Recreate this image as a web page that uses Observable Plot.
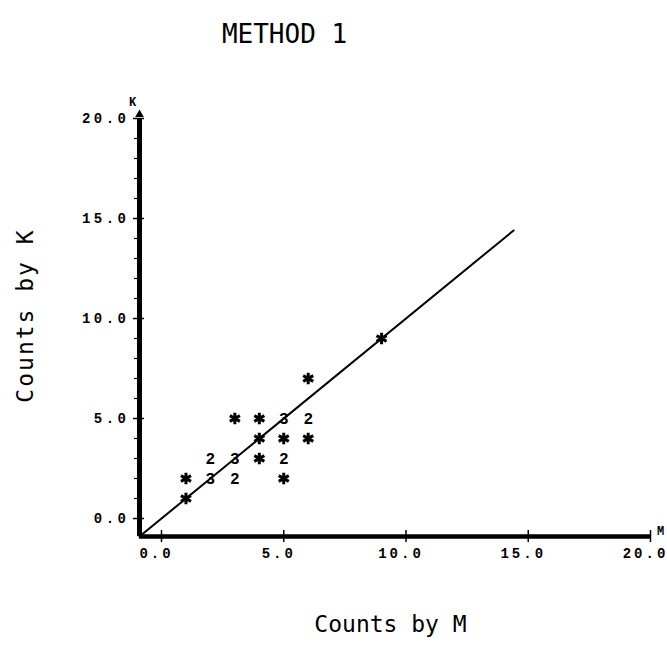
<!DOCTYPE html>
<html><head><meta charset="utf-8">
<script src="https://cdn.jsdelivr.net/npm/d3@7"></script>
<script src="https://cdn.jsdelivr.net/npm/@observablehq/plot@0.6"></script>
<style>html,body{margin:0;padding:0;background:#fff;} #chart svg{display:block}</style>
</head><body><div id="chart"></div>
<script>
const title = "METHOD 1";
const xTitle = "Counts by M";
const yTitle = "Counts by K";
const xAxisName = "M";
const yAxisName = "K";
const majorTicks = [0, 5, 10, 15, 20];
const minorTicks = [1, 2, 3, 4, 6, 7, 8, 9, 11, 12, 13, 14, 16, 17, 18, 19];
const axisStart = -0.9;
const axisEnd = 20;
// single observations (asterisks)
const starM = [1, 1, 3, 4, 4, 5, 6, 4, 5, 6, 9];
const starK = [1, 2, 5, 5, 4, 4, 4, 3, 2, 7, 9];
// overlapping observations (count digits)
const countM = [5, 6, 2, 3, 5, 2, 3];
const countK = [5, 5, 3, 3, 3, 2, 2];
const countN = ["3", "2", "2", "3", "2", "3", "2"];
// fitted line endpoints
const fitM = [-0.9, 14.4];
const fitK = [-0.9, 14.4];

const stars = starM.map((m, i) => ({m, k: starK[i]}));
const counts = countM.map((m, i) => ({m, k: countK[i], n: countN[i]}));
const fit = fitM.map((m, i) => ({m, k: fitK[i]}));

const mono = "'Liberation Mono', 'DejaVu Sans Mono', monospace";
const plotter = "'DejaVu Sans Mono', monospace";

const chart = Plot.plot({
  width: 667, height: 649,
  marginLeft: 139, marginRight: 17, marginTop: 118, marginBottom: 113,
  x: {domain: [axisStart, axisEnd], axis: null},
  y: {domain: [axisStart, axisEnd], axis: null},
  style: {background: "#fff", color: "#000", overflow: "visible"},
  marks: [
    Plot.line(fit, {x: "m", y: "k", stroke: "#000", strokeWidth: 2}),
    Plot.ruleY([axisStart], {y: d => d, x1: d => axisStart, x2: d => axisEnd, stroke: "#000", strokeWidth: 4.5}),
    Plot.ruleX([axisStart], {x: d => d, y1: d => axisStart, y2: d => axisEnd, stroke: "#000", strokeWidth: 5}),
    Plot.dot([axisEnd], {x: d => axisStart, y: d => d, symbol: "triangle", r: 3.2, fill: "#000", dy: -4}),
    Plot.ruleY(minorTicks, {y: d => d, x1: d => axisStart, x2: d => axisStart, insetLeft: -5, stroke: "#000", strokeWidth: 1.2}),
    Plot.ruleY(majorTicks, {y: d => d, x1: d => axisStart, x2: d => axisStart, insetLeft: -6, insetRight: -5, stroke: "#000", strokeWidth: 1.5}),
    Plot.ruleX(majorTicks, {x: d => d, y1: d => axisStart, y2: d => axisStart, insetTop: -6, insetBottom: -6, stroke: "#000", strokeWidth: 1.5}),
    Plot.text(majorTicks, {x: d => d, frameAnchor: "bottom", dx: -5, dy: 21, textAnchor: "middle", text: d => d.toFixed(1), fontFamily: mono, fontWeight: "bold", fontSize: 14, fill: "#000", ariaDescription: "x-tick-labels"}),
    Plot.text(majorTicks, {y: d => d, frameAnchor: "left", dx: -10, textAnchor: "end", text: d => d.toFixed(1), fontFamily: mono, fontWeight: "bold", fontSize: 14, fill: "#000", ariaDescription: "y-tick-labels"}),
    Plot.text([yAxisName], {frameAnchor: "top-left", dx: -7, dy: -21, textAnchor: "middle", text: d => d, fontFamily: mono, fontWeight: "bold", fontSize: 12, fill: "#000"}),
    Plot.text([xAxisName], {frameAnchor: "bottom-right", dx: 10, dy: -2, textAnchor: "middle", text: d => d, fontFamily: mono, fontWeight: "bold", fontSize: 12, fill: "#000"}),
    Plot.dot(stars, {x: "m", y: "k", symbol: "asterisk", r: 5.5, stroke: "#000", strokeWidth: 3}),
    Plot.text(counts, {x: "m", y: "k", text: "n", fontFamily: mono, fontWeight: "bold", fontSize: 16, fill: "#000"}),
    Plot.text([title], {frameAnchor: "top-left", dx: 145, dy: -94, textAnchor: "middle", text: d => d, fontFamily: plotter, fontSize: 26, fill: "#000"}),
    Plot.text([xTitle], {frameAnchor: "bottom-left", dx: 251, dy: 95, textAnchor: "middle", text: d => d, fontFamily: plotter, fontSize: 23, fill: "#000"}),
    Plot.text([yTitle], {frameAnchor: "left", dx: -114, dy: -12, rotate: -90, textAnchor: "middle", text: d => d, fontFamily: plotter, fontSize: 23, fill: "#000", ariaDescription: "y-title"})
  ]
});
d3.select(chart).selectAll("g[aria-description='x-tick-labels'] text").attr("letter-spacing", "3px");
d3.select(chart).selectAll("g[aria-description='y-tick-labels'] text").attr("letter-spacing", "3.5px");
d3.select(chart).selectAll("g[aria-description='y-title'] text").attr("letter-spacing", "2px");
document.getElementById("chart").appendChild(chart);
</script>
</body></html>
